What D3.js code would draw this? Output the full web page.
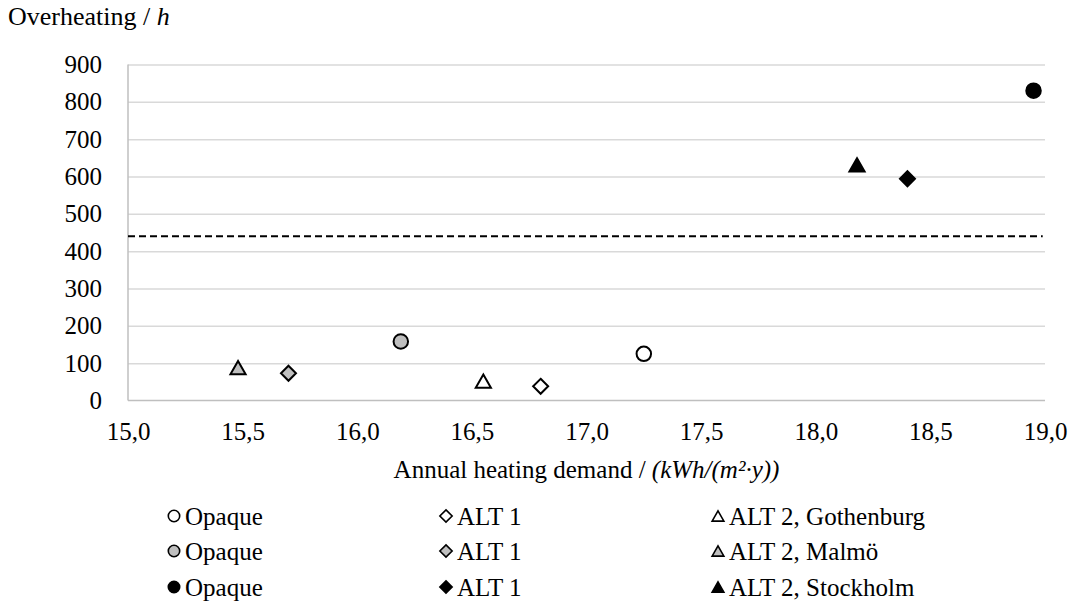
<!DOCTYPE html>
<html>
<head>
<meta charset="utf-8">
<script src="https://cdn.jsdelivr.net/npm/d3@7/dist/d3.min.js"></script>
</head>
<body style="margin:0;background:#fff">
<svg id="chart" width="1077" height="601" style="display:block"></svg>
<script>
// ---- data ----
const cities = ["Gothenburg", "Malmö", "Stockholm"];
const variants = ["Opaque", "ALT 1", "ALT 2"];
const heatingDemand = {            // kWh/(m²·y)
  "Gothenburg": [17.25, 16.80, 16.55],
  "Malmö":      [16.19, 15.70, 15.48],
  "Stockholm":  [18.95, 18.40, 18.18]
};
const overheatingHours = {         // h
  "Gothenburg": [125, 38, 52],
  "Malmö":      [158, 73, 88],
  "Stockholm":  [830, 594, 631]
};
const thresholdHours = 440;
const xTicks = [15.0, 15.5, 16.0, 16.5, 17.0, 17.5, 18.0, 18.5, 19.0];
const yTicks = [0, 100, 200, 300, 400, 500, 600, 700, 800, 900];
const fills = { "Gothenburg": "#ffffff", "Malmö": "#bfbfbf", "Stockholm": "#000000" };

// ---- layout ----
const FONT = "'Liberation Serif', Tinos, 'Times New Roman', serif";
const svg = d3.select("#chart");
const mLeft = 128, mRight = 1045, mTop = 64.5, mBottom = 400.5;
const x = d3.scaleLinear().domain([15, 19]).range([mLeft, mRight]);
const y = d3.scaleLinear().domain([0, 900]).range([mBottom, mTop]);
const fontSize = 25;

function serif(sel, size) {
  return sel.attr("font-family", FONT).style("font-family", FONT, "important")
    .attr("font-size", size).style("font-size", size + "px");
}

// custom symbols
const triangleSym = { draw(ctx, size) {
  const w = Math.sqrt(size * 2.3), h = w * 0.88;
  ctx.moveTo(0, -h / 2); ctx.lineTo(w / 2, h / 2); ctx.lineTo(-w / 2, h / 2); ctx.closePath();
}};
const diamondSym = { draw(ctx, size) {
  const r = Math.sqrt(size) / 2;
  ctx.moveTo(0, -r); ctx.lineTo(r, 0); ctx.lineTo(0, r); ctx.lineTo(-r, 0); ctx.closePath();
}};
const circleSym = { draw(ctx, size) {
  const r = Math.sqrt(size) / 2;
  ctx.moveTo(r, 0); ctx.arc(0, 0, r, 0, 2 * Math.PI);
}};
const symTypes = [circleSym, diamondSym, triangleSym];

// gridlines
const yAxisGrid = d3.axisLeft(y).tickValues(yTicks.filter(d => d > 0)).tickSize(-(mRight - mLeft)).tickFormat("");
svg.append("g").attr("transform", `translate(${mLeft},0)`).call(yAxisGrid)
  .call(g => g.select(".domain").remove())
  .call(g => g.selectAll("line").attr("stroke", "#d9d9d9").attr("stroke-width", 1.5));

// axes lines
svg.append("line").attr("x1", mLeft).attr("x2", mLeft).attr("y1", mTop).attr("y2", mBottom)
  .attr("stroke", "#bfbfbf").attr("stroke-width", 1.5);
svg.append("line").attr("x1", mLeft).attr("x2", mRight).attr("y1", mBottom).attr("y2", mBottom)
  .attr("stroke", "#bfbfbf").attr("stroke-width", 1.5);

// y tick labels
const yAxis = d3.axisLeft(y).tickValues(yTicks).tickSize(0).tickPadding(26).tickFormat(d3.format("d"));
svg.append("g").attr("transform", `translate(${mLeft},0)`).call(yAxis)
  .call(g => g.select(".domain").remove())
  .call(g => serif(g, fontSize))
  .call(g => serif(g.selectAll("text"), fontSize).attr("fill", "#000"));

// x tick labels
const fmtX = d => d3.format(".1f")(d).replace(".", ",");
const xAxis = d3.axisBottom(x).tickValues(xTicks).tickSize(0).tickPadding(22).tickFormat(fmtX);
svg.append("g").attr("transform", `translate(0,${mBottom})`).call(xAxis)
  .call(g => g.select(".domain").remove())
  .call(g => serif(g, fontSize))
  .call(g => serif(g.selectAll("text"), fontSize).attr("fill", "#000"));

// threshold dashed line
svg.append("line").attr("x1", x(15)).attr("x2", x(18.99)).attr("y1", y(thresholdHours)).attr("y2", y(thresholdHours))
  .attr("stroke", "#000").attr("stroke-width", 2).attr("stroke-dasharray", "7,4");

// points
const points = [];
cities.forEach(c => variants.forEach((v, i) => points.push({
  city: c, vi: i, xv: heatingDemand[c][i], yv: overheatingHours[c][i]
})));
svg.append("g").selectAll("path").data(points).join("path")
  .attr("transform", d => `translate(${x(d.xv)},${y(d.yv)})`)
  .attr("d", d => d3.symbol().type(symTypes[d.vi]).size(d.vi === 1 ? 225 : (d.vi === 2 ? 100 : 210))())
  .attr("fill", d => fills[d.city])
  .attr("stroke", "#000").attr("stroke-width", 2);

// titles
const yTitle = svg.append("text").attr("x", 8).attr("y", 25);
serif(yTitle, 26);
yTitle.append("tspan").text("Overheating / ");
yTitle.append("tspan").attr("font-style", "italic").style("font-style", "italic").text("h");

const xTitle = svg.append("text").attr("x", (mLeft + mRight) / 2).attr("y", 478).attr("text-anchor", "middle");
serif(xTitle, fontSize);
xTitle.append("tspan").text("Annual heating demand / ");
xTitle.append("tspan").attr("font-style", "italic").style("font-style", "italic").text("(kWh/(m²·y))");

// legend
const legendX = [174, 446, 718];
const legendY = [516, 551, 587];
const legendLabels = ["Opaque", "ALT 1", "ALT 2"];
cities.forEach((c, ri) => {
  variants.forEach((v, ci) => {
    const g = svg.append("g").attr("transform", `translate(${legendX[ci]},${legendY[ri]})`);
    g.append("path")
      .attr("d", d3.symbol().type(symTypes[ci]).size(ci === 1 ? 150 : (ci === 2 ? 60 : 130))())
      .attr("fill", fills[c]).attr("stroke", "#000").attr("stroke-width", 1.6);
    const t = g.append("text").attr("x", 11).attr("dy", "0.35em")
      .text(ci === 2 ? `${legendLabels[ci]}, ${c}` : legendLabels[ci]);
    serif(t, fontSize);
  });
});
</script>
</body>
</html>
